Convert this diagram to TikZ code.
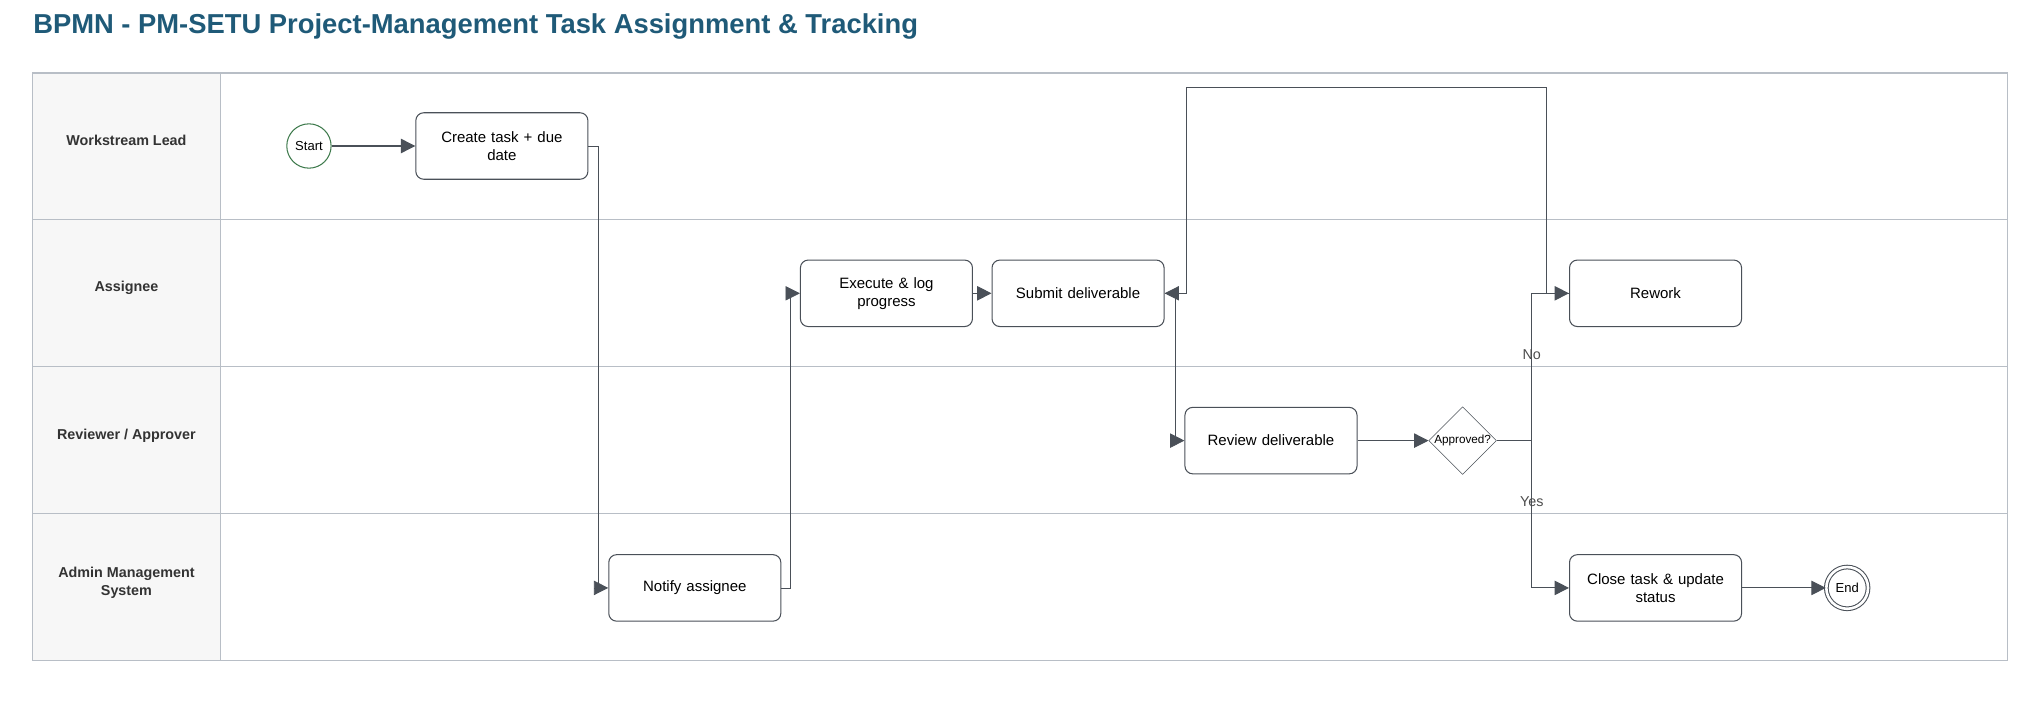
\documentclass[tikz,border=0pt]{standalone}
\usepackage{fontspec}
\setmainfont{Liberation Sans}
\usepackage{xcolor}
\usetikzlibrary{shapes.geometric,arrows.meta}
\definecolor{titleblue}{HTML}{1F5A78}
\definecolor{flowgray}{HTML}{4A5058}
\definecolor{lanegray}{HTML}{B8BEC6}
\definecolor{headfill}{HTML}{F7F7F7}
\definecolor{startgreen}{HTML}{3E7A4C}

\tikzset{
	task/.style={draw=flowgray, thick, rounded corners=6pt, minimum width=132pt, minimum height=51pt, align=center, text width=118pt, font=\fontsize{11.5}{14}\selectfont, fill=white},
	flow/.style={draw=flowgray, thick, -{Triangle[length=11pt,width=11pt]}},
	lanelabel/.style={align=center, font=\bfseries\fontsize{11}{14}\selectfont, text=black!80},
}

\begin{document}
\begin{tikzpicture}[x=1pt, y=-1pt]
	\useasboundingbox (0,0) rectangle (1568,540);
	\node[anchor=west, text=titleblue, font=\bfseries\fontsize{21}{25}\selectfont] (title) at (22,20) {BPMN - PM-SETU Project-Management Task Assignment \& Tracking};
	
	% pool and lanes
	\fill[headfill] (25,56) rectangle (169,507);
	\draw[draw=lanegray] (169,56) -- (169,507);
	\foreach \y in {168,281,394} {
		\draw[draw=lanegray] (25,\y) -- (1540,\y);
	}
	\draw[draw=lanegray, thick] (25,56) rectangle (1540,507);
	\node[lanelabel] (lead) at (97,108) {Workstream Lead};
	\node[lanelabel] (assignee) at (97,221) {Assignee};
	\node[lanelabel] (reviewer) at (97,334) {Reviewer / Approver};
	\node[lanelabel] (admin) at (97,447) {Admin Management\\System};
	
	% events, tasks, gateway
	\node[draw=startgreen, thick, circle, minimum size=34pt, inner sep=0pt, font=\fontsize{10}{12}\selectfont] (start) at (237,112) {Start};
	\node[task] (create) at (385,112) {Create task + due\\date};
	\node[task] (notify) at (533,451) {Notify assignee};
	\node[task] (execute) at (680,225) {Execute \& log\\progress};
	\node[task] (submit) at (827,225) {Submit deliverable};
	\node[task] (review) at (975,338) {Review deliverable};
	\node[draw=flowgray, diamond, minimum width=50pt, minimum height=50pt, inner sep=0pt, font=\fontsize{9}{11}\selectfont] (approved) at (1122,338) {Approved?};
	\node[task] (rework) at (1270,225) {Rework};
	\node[task] (close) at (1270,451) {Close task \& update\\status};
	\node[draw=flowgray, thick, double, double distance=2pt, circle, minimum size=32pt, inner sep=0pt, font=\fontsize{10}{12}\selectfont] (end) at (1417,451) {End};
	
	% sequence flows
	\draw[flow] (start) -- (create);
	\draw[flow, semithick] (create.east) -- ++(8,0) |- (notify.west);
	\draw[flow, semithick] (notify.east) -- ++(7,0) |- (execute.west);
	\draw[flow] (execute) -- (submit);
	\draw[flow, semithick] (submit.east) -- ++(8,0) |- (review.west);
	\draw[flow] (review) -- (approved);
	\coordinate (split) at (1175,338);
	\draw[flow] (approved.east) -- (split) |- (rework.west);
	\draw[flow] (split) |- (close.west);
	\draw[flow] (rework.west) -- ++(-17,0) -- ++(0,-158) -| (910,225) -- (submit.east);
	\draw[flow] (close) -- (end);
	
	\node[font=\fontsize{11}{13}\selectfont, text=black!70] (no) at (1175,272) {No};
	\node[font=\fontsize{11}{13}\selectfont, text=black!70] (yes) at (1175,385) {Yes};
\end{tikzpicture}
\end{document}
